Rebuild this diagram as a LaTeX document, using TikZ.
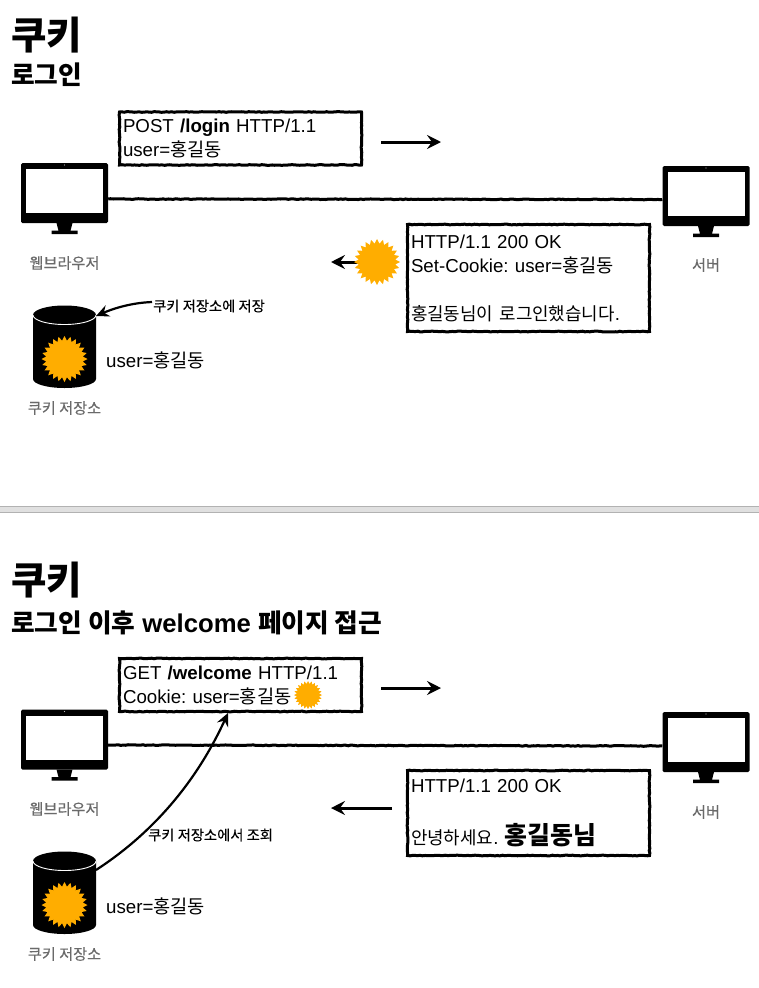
\documentclass[tikz,border=0pt]{standalone}
\usepackage{fontspec}
\setmainfont{Liberation Sans}
\newfontfamily\kr{Noto Sans CJK KR}
\newfontfamily\krm[FakeBold=0.25]{Noto Sans CJK KR}
\usetikzlibrary{arrows.meta,shapes.geometric,positioning,decorations.pathmorphing}
\definecolor{sunc}{HTML}{FFAD00}
\definecolor{capc}{HTML}{6A6A6A}
\newcommand{\K}[1]{{\kr #1}}
\newcommand{\KS}[1]{{\fontsize{17.9}{17.9}\selectfont\kr #1}}
\newcommand{\FS}[1]{\fontsize{#1}{#1}\selectfont}
\newcommand{\FL}[2]{\fontsize{#1}{#2}\selectfont}
\tikzset{
  x=1pt,y=-1pt,
  roughedge/.style={decorate,decoration={random steps,segment length=2.5pt,amplitude=0.35pt}},
  msgbox/.style={draw=black,line width=3pt,fill=white,anchor=north west,align=left,inner xsep=3.5pt,inner ysep=0pt,font=\FL{18.7}{24},roughedge},
  flowarrow/.style={-{Stealth[length=14pt,width=14pt,inset=5pt]},line width=3pt,black},
  curvearrow/.style={-{Stealth[length=13pt,width=12pt,inset=4.5pt]},line width=2.2pt,black},
  linkline/.style={line width=3pt,black,roughedge},
  sunburst/.style={star,star points=24,star point ratio=1.25,fill=sunc,inner sep=0pt,minimum size=#1},
  bigtitle/.style={anchor=west,inner sep=0pt,font=\FS{38.5}\kr\bfseries},
  subtitle/.style={anchor=west,inner sep=0pt,font=\FS{25.7}\bfseries},
  captext/.style={inner sep=0pt,text=capc,font=\FS{15.2}\krm},
  notetext/.style={inner sep=0pt,font=\FS{14.3}\krm},
  plaintext/.style={anchor=west,inner sep=0pt,font=\FS{18.7}},
  pics/monitor/.style={code={
    \fill[black] (-8,30) -- (-6,37.7) -- (-13,37.7) -- (-13,41) -- (13,41) -- (13,37.7) -- (6,37.7) -- (8,30) -- cycle;
    \node[fill=black,rounded corners=1.5pt,minimum width=87pt,minimum height=60pt,inner sep=0pt] (-body) at (0,0) {};
    \node[fill=white,minimum width=77pt,minimum height=44pt,inner sep=0pt] (-screen) at (0,-2) {};
    \fill[white!70!black] (0,-28) circle (0.7);
  }},
  pics/datastore/.style={code={
    \fill[black] (-31.5,-32) -- (-31.5,32) arc[start angle=180,end angle=0,x radius=31.5,y radius=9] -- (31.5,-32) arc[start angle=0,end angle=-180,x radius=31.5,y radius=9.5];
    \draw[white,line width=0.9pt] (-31.5,-32) arc[start angle=180,end angle=0,x radius=31.5,y radius=9.5];
    \coordinate (-rim) at (31.5,-31);
    \node[sunburst=46pt] (-cookie) at (0,12) {};
  }},
}
\begin{document}
\frenchspacing
\begin{tikzpicture}
\useasboundingbox (0,0) rectangle (759,988);
% --- top panel
\node[bigtitle] (t1) at (11,35) {쿠키};
\node[subtitle] (s1) at (11,75) {\K{로그인}};
\pic (m1) at (64.5,193) {monitor};
\pic (m2) at (706,196) {monitor};
\draw[linkline] (m1-body.east |- 0,199) coordinate (l1a) -- (m2-body.west |- 0,199.5) coordinate (l1b);
\node[msgbox,text width=235pt,minimum height=53pt] (b1) at (118,110.5) {POST \textbf{/login} HTTP/1.1\\user=\K{홍길동}};
\coordinate (a1s) at (381,142); \coordinate (a1e) at (441,142);
\draw[flowarrow] (a1s) -- (a1e);
\node[msgbox,text width=235pt,minimum height=107pt] (b2) at (406,223) {HTTP/1.1 200 OK\\Set-Cookie: user=\K{홍길동}\\[24pt]\KS{홍길동님이 로그인했습니다}.};
\coordinate (a2e) at (331,262);
\coordinate (a2s) at (377,262);
\draw[flowarrow] (a2s) -- (a2e);
\node[sunburst=46pt] (c1) at (a2s) {};
\node[captext] (cap1) at (64.5,263) {웹브라우저};
\node[captext] (cap2) at (706,265) {서버};
\pic (d1) at (64.5,347) {datastore};
\node[plaintext] (u1) at (106,360) {user=\K{홍길동}};
\node[captext] (cap3) at (64.5,408) {쿠키 저장소};
\node[notetext,anchor=west] (n1) at (153,306) {쿠키 저장소에 저장};
\draw[curvearrow] (n1.west) ++(-1,-4) coordinate (n1s) .. controls (128,303) and (110,310) .. (d1-rim);
% --- separator
\fill[black!12] (0,506) rectangle (759,513);
\draw[black!30,line width=1pt] (0,506.5) -- (759,506.5) (0,512.5) -- (759,512.5);
% --- bottom panel
\node[bigtitle] (t2) at (11,580) {쿠키};
\node[subtitle] (s2) at (11,623) {\K{로그인 이후} welcome \K{페이지 접근}};
\pic (m3) at (64.5,739.5) {monitor};
\pic (m4) at (706,742) {monitor};
\draw[linkline] (m3-body.east |- 0,745) coordinate (l2a) -- (m4-body.west |- 0,746) coordinate (l2b);
\node[msgbox,text width=235pt,minimum height=53pt] (b3) at (118,657) {GET \textbf{/welcome} HTTP/1.1\\Cookie: user=\K{홍길동}};
\node[sunburst=28pt] (c2) at (308,695) {};
\coordinate (a3s) at (381,688); \coordinate (a3e) at (441,688);
\draw[flowarrow] (a3s) -- (a3e);
\node[msgbox,text width=235pt,minimum height=85pt,font=\FL{18.7}{52}] (b4) at (406,769) {HTTP/1.1 200 OK\\\KS{안녕하세요}. {\FS{24.9}\kr\bfseries 홍길동님}};
\coordinate (a4s) at (392,808); \coordinate (a4e) at (331,808);
\draw[flowarrow] (a4s) -- (a4e);
\node[captext] (cap4) at (64.5,809) {웹브라우저};
\node[captext] (cap5) at (706,812) {서버};
\pic (d2) at (64.5,893) {datastore};
\node[plaintext] (u2) at (106,906) {user=\K{홍길동}};
\node[captext] (cap6) at (64.5,954) {쿠키 저장소};
\node[notetext,anchor=west] (n2) at (148,835) {쿠키 저장소에서 조회};
\coordinate (b3t) at (228,713);
\draw[curvearrow] (d2-rim) ++(0,8) coordinate (d2s) .. controls (150,835) and (195,785) .. (b3t);
\end{tikzpicture}
\end{document}
